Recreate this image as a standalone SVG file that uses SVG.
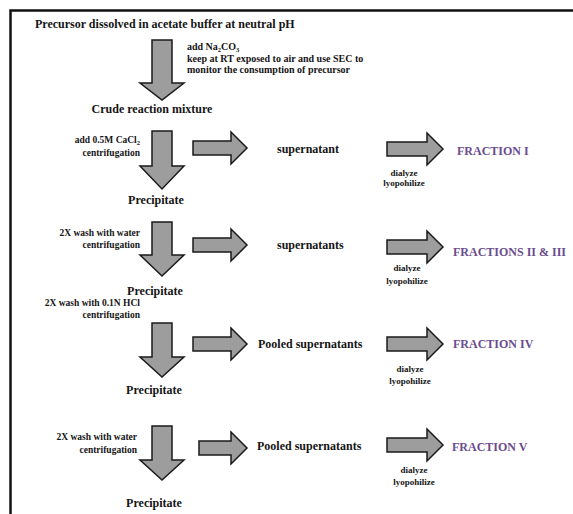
<svg xmlns="http://www.w3.org/2000/svg" width="573" height="514" viewBox="0 0 573 514">
<style>
text{font-family:"Liberation Serif","Times New Roman",serif;font-weight:bold;fill:#151515}
.big{font-size:12px}
.ann{font-size:10px}
.lbl{font-size:9.5px;text-anchor:end}
.dl{font-size:9px;text-anchor:middle}
.mid{text-anchor:middle}
.fr{font-size:12px;fill:#6a4c8e}
.sub{font-size:6.5px}
.arr{fill:#9d9d9d;stroke:#1a1a1a;stroke-width:1.5;stroke-linejoin:miter}
</style>
<rect width="573" height="514" fill="#fff"/>
<g id="frame" fill="none" stroke="#111" stroke-width="2.5">
<path d="M10.5,514 V10.5 H573"/>
</g>
<g id="connectors">
<path class="arr" d="M152,40 H172 V83 H184 L162,100 L140,83 H152 Z"/>
<path class="arr" d="M152,131 H172 V166 H184 L162,189 L140,166 H152 Z"/>
<path class="arr" d="M152,222 H172 V255 H184 L162,276 L140,255 H152 Z"/>
<path class="arr" d="M152,323 H172 V357 H184 L162,377 L140,357 H152 Z"/>
<path class="arr" d="M152,426 H172 V460 H184 L162,480 L140,460 H152 Z"/>
<path class="arr" d="M193,141 H231 V132 L247,148 L231,164 V155 H193 Z"/>
<path class="arr" d="M193,238 H231 V229 L247,245 L231,261 V252 H193 Z"/>
<path class="arr" d="M193,337 H231 V328 L247,344 L231,360 V351 H193 Z"/>
<path class="arr" d="M199,441 H231 V432 L247,448 L231,464 V455 H199 Z"/>
<path class="arr" d="M387,142 H427 V133 L443,149 L427,165 V156 H387 Z"/>
<path class="arr" d="M387,240 H427 V231 L443,247 L427,263 V254 H387 Z"/>
<path class="arr" d="M387,337 H427 V328 L443,344 L427,360 V351 H387 Z"/>
<path class="arr" d="M387,438 H427 V429 L443,445 L427,461 V452 H387 Z"/>
</g>
<g id="title"><text class="big" x="35" y="28">Precursor dissolved in acetate buffer at neutral pH</text></g>
<g id="step1-note">
<text class="ann" x="187" y="50">add Na<tspan class="sub" dy="1.5">2</tspan><tspan dy="-1.5">CO</tspan><tspan class="sub" dy="1.5">3</tspan></text>
<text class="ann" x="187" y="62">keep at RT exposed to air and use SEC to</text>
<text class="ann" x="187" y="73">monitor the consumption of precursor</text>
</g>
<g id="crude"><text class="big mid" x="152" y="113">Crude reaction mixture</text></g>
<g id="step2-note">
<text class="lbl" x="140" y="143">add 0.5M CaCl<tspan class="sub" dy="1.5">2</tspan></text>
<text class="lbl" x="140" y="156">centrifugation</text>
</g>
<g id="precipitate1"><text class="big mid" x="156" y="204">Precipitate</text></g>
<g id="supernatant1"><text class="big" x="277" y="153">supernatant</text></g>
<g id="dialyze1"><text class="dl" x="404" y="176">dialyze</text><text class="dl" x="404" y="186">lyopohilize</text></g>
<g id="fraction1"><text class="fr" x="457" y="155">FRACTION I</text></g>
<g id="step3-note">
<text class="lbl" x="140" y="236">2X wash with water</text>
<text class="lbl" x="140" y="248">centrifugation</text>
</g>
<g id="precipitate2"><text class="big mid" x="155" y="295">Precipitate</text></g>
<g id="supernatant2"><text class="big" x="277" y="249">supernatants</text></g>
<g id="dialyze2"><text class="dl" x="407" y="271">dialyze</text><text class="dl" x="407" y="284">lyopohilize</text></g>
<g id="fraction2"><text class="fr" x="453" y="256">FRACTIONS II &amp; III</text></g>
<g id="step4-note">
<text class="lbl" x="140" y="306">2X wash with 0.1N HCl</text>
<text class="lbl" x="140" y="318">centrifugation</text>
</g>
<g id="precipitate3"><text class="big mid" x="154" y="394">Precipitate</text></g>
<g id="supernatant3"><text class="big" x="258" y="348">Pooled supernatants</text></g>
<g id="dialyze3"><text class="dl" x="410" y="372">dialyze</text><text class="dl" x="410" y="384">lyopohilize</text></g>
<g id="fraction3"><text class="fr" x="453" y="348">FRACTION IV</text></g>
<g id="step5-note">
<text class="lbl" x="137" y="440">2X wash with water</text>
<text class="lbl" x="137" y="453">centrifugation</text>
</g>
<g id="precipitate4"><text class="big mid" x="154" y="507">Precipitate</text></g>
<g id="supernatant4"><text class="big" x="257" y="450">Pooled supernatants</text></g>
<g id="dialyze4"><text class="dl" x="414" y="473">dialyze</text><text class="dl" x="414" y="485">lyopohilize</text></g>
<g id="fraction4"><text class="fr" x="452" y="451">FRACTION V</text></g>
</svg>
